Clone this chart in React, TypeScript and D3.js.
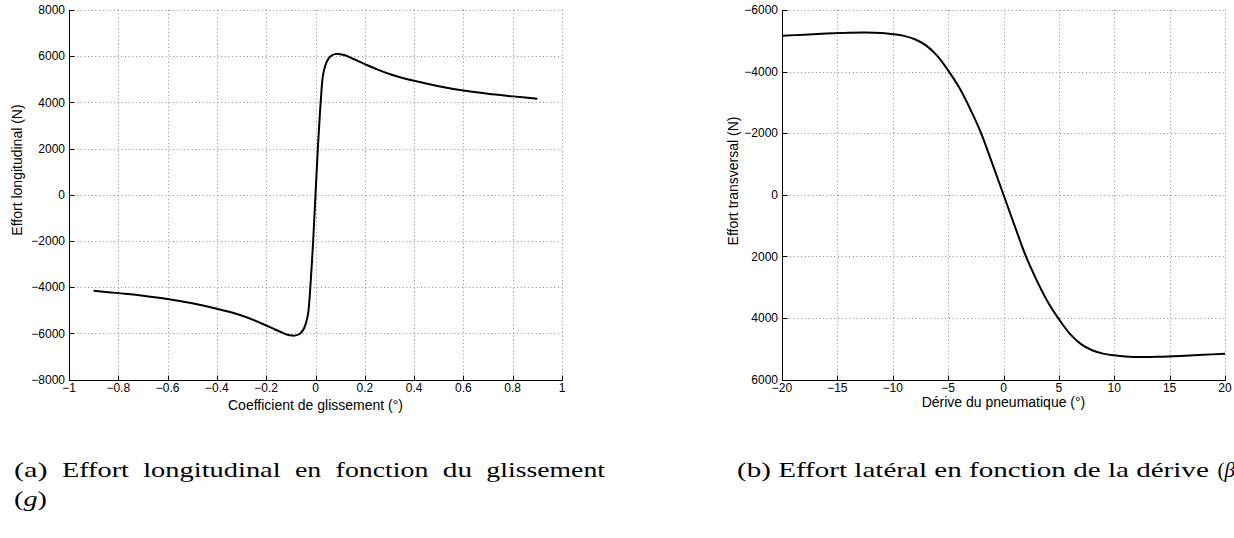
import React from 'react';
import * as d3 from 'd3';

// ---- Data: chart (a) longitudinal force vs slip ----
const slipX = [-0.9, -0.8, -0.7, -0.6, -0.5, -0.4, -0.35, -0.3, -0.25, -0.2, -0.15, -0.12, -0.093, -0.08, -0.065, -0.05, -0.04, -0.03, -0.021, -0.015, -0.0095, 0,
  0.0095, 0.015, 0.021, 0.03, 0.04, 0.05, 0.065, 0.08, 0.093, 0.12, 0.15, 0.2, 0.25, 0.3, 0.35, 0.4, 0.5, 0.6, 0.7, 0.8, 0.9];
const forceLong = [-4155, -4260, -4370, -4510, -4700, -4935, -5070, -5230, -5430, -5660, -5900, -6040, -6100, -6090, -6030, -5850, -5600, -5150, -4000, -3000, -2000, 0,
  2000, 3000, 4000, 5150, 5600, 5850, 6030, 6090, 6100, 6040, 5900, 5660, 5430, 5230, 5070, 4935, 4700, 4510, 4370, 4260, 4155];
const xTicksA = [-1, -0.8, -0.6, -0.4, -0.2, 0, 0.2, 0.4, 0.6, 0.8, 1];
const yTicksA = [-8000, -6000, -4000, -2000, 0, 2000, 4000, 6000, 8000];

// ---- Data: chart (b) lateral force vs slip angle ----
const slipAngle = [-20, -18, -16, -14, -12.5, -11, -10, -9, -8, -7, -6, -5, -4, -3, -2, -1, 0, 1, 2, 3, 4, 5, 6, 7, 8, 9, 10, 11, 12.5, 14, 16, 18, 20];
const forceLat = [-5160, -5200, -5235, -5262, -5270, -5250, -5215, -5160, -5050, -4850, -4520, -4040, -3480, -2780, -1980, -1000, 0,
  1000, 1980, 2780, 3480, 4040, 4520, 4850, 5050, 5160, 5215, 5250, 5270, 5262, 5235, 5200, 5160];
const xTicksB = [-20, -15, -10, -5, 0, 5, 10, 15, 20];
const yTicksB = [-6000, -4000, -2000, 0, 2000, 4000, 6000];

const labelsA = { x: 'Coefficient de glissement (°)', y: 'Effort longitudinal (N)' };
const labelsB = { x: 'Dérive du pneumatique (°)', y: 'Effort transversal (N)' };

const captionAWords = ['(a)', 'Effort', 'longitudinal', 'en', 'fonction', 'du', 'glissement'];
const captionAEm = [1.278, 2.545, 5.225, 1.0, 3.529, 1.112, 4.51];
const captionB = '(b) Effort latéral en fonction de la dérive';

const fmt = (t: number) => {
  const s = d3.format('~g')(t);
  return s.replace('-', '\u2212');
};

const SANS = '"Liberation Sans", Arial, Helvetica, sans-serif';
const SERIF = '"Liberation Serif", "Times New Roman", serif';

type PanelProps = {
  xs: number[]; ys: number[];
  xDomain: [number, number]; yDomain: [number, number];
  xRange: [number, number]; yRange: [number, number];
  xTicks: number[]; yTicks: number[];
  xLabel: string; yLabel: string;
  yLabelX: number; yLabelY: number; xLabelY: number;
};

function Panel(p: PanelProps) {
  const x = d3.scaleLinear().domain(p.xDomain).range(p.xRange);
  const y = d3.scaleLinear().domain(p.yDomain).range(p.yRange);
  const crisp = (v: number) => Math.round(v) + 0.5;
  const line = d3.line<number>()
    .x((_, i) => x(p.xs[i]))
    .y((d) => y(d))
    .curve(d3.curveCatmullRom.alpha(0.5));
  const left = crisp(p.xRange[0]);
  const bottom = crisp(Math.max(p.yRange[0], p.yRange[1]));
  const top = Math.min(p.yRange[0], p.yRange[1]);
  const right = p.xRange[1];
  const gridStyle = { stroke: '#8a8a8a', strokeWidth: 1, strokeDasharray: '1 2.7' };
  return (
    <g>
      {p.xTicks.map((t, i) => (
        <line key={'gx' + i} x1={crisp(x(t))} x2={crisp(x(t))} y1={top} y2={bottom} {...gridStyle} />
      ))}
      {p.yTicks.map((t, i) => (
        <line key={'gy' + i} x1={left} x2={right} y1={crisp(y(t))} y2={crisp(y(t))} {...gridStyle} />
      ))}
      <path d={line(p.ys) || ''} fill="none" stroke="#000" strokeWidth={2} strokeLinejoin="round" />
      <line x1={left} x2={left} y1={top} y2={bottom} stroke="#000" strokeWidth={1} />
      <line x1={left} x2={right + 0.5} y1={bottom} y2={bottom} stroke="#000" strokeWidth={1} />
      {p.xTicks.map((t, i) => (
        <g key={'tx' + i}>
          <line x1={crisp(x(t))} x2={crisp(x(t))} y1={bottom} y2={bottom - 5} stroke="#000" strokeWidth={1} />
          <text x={x(t)} y={392} textAnchor="middle" fontFamily={SANS} fontSize={12} fill="#000">{fmt(t)}</text>
        </g>
      ))}
      {p.yTicks.map((t, i) => (
        <g key={'ty' + i}>
          <line x1={left} x2={left + 5} y1={crisp(y(t))} y2={crisp(y(t))} stroke="#000" strokeWidth={1} />
          <text x={left - 4.5} y={y(t)} dy="0.35em" textAnchor="end" fontFamily={SANS} fontSize={12} fill="#000">{fmt(t)}</text>
        </g>
      ))}
      <text x={(p.xRange[0] + p.xRange[1]) / 2} y={p.xLabelY} textAnchor="middle" fontFamily={SANS} fontSize={14} fill="#000">{p.xLabel}</text>
      <text transform={`translate(${p.yLabelX},${p.yLabelY}) rotate(-90)`} textAnchor="middle" dy="0.35em" fontFamily={SANS} fontSize={14} fill="#000">{p.yLabel}</text>
    </g>
  );
}

export default function App() {
  const f = 26.3;
  const lineStart = 14;
  const lineWidth = 591;
  const totalW = d3.sum(captionAEm) * f;
  const gap = (lineWidth - totalW) / (captionAWords.length - 1);
  const starts: number[] = [];
  let cur = lineStart;
  captionAEm.forEach((e) => { starts.push(cur); cur += e * f + gap; });
  const bWidth = 17.94 * f;
  const bStart = 737;

  return (
    <svg width={1234} height={538} style={{ position: 'absolute', left: 0, top: 0, background: '#fff', overflow: 'hidden' }}>
      <rect x={0} y={0} width={1234} height={538} fill="#fff" />
      <Panel xs={slipX} ys={forceLong} xDomain={[-1, 1]} yDomain={[-8000, 8000]}
        xRange={[69, 562]} yRange={[379.5, 10]} xTicks={xTicksA} yTicks={yTicksA}
        xLabel={labelsA.x} yLabel={labelsA.y} yLabelX={17} yLabelY={170} xLabelY={410} />
      <Panel xs={slipAngle} ys={forceLat} xDomain={[-20, 20]} yDomain={[-6000, 6000]}
        xRange={[782, 1225]} yRange={[10, 379.5]} xTicks={xTicksB} yTicks={yTicksB}
        xLabel={labelsB.x} yLabel={labelsB.y} yLabelX={733} yLabelY={181} xLabelY={407} />
      {captionAWords.map((w, i) => (
        <text key={'ca' + i} x={starts[i]} y={477} fontFamily={SERIF} fontSize={21} fill="#000"
          textLength={captionAEm[i] * f} lengthAdjust="spacingAndGlyphs">{w}</text>
      ))}
      <text x={lineStart} y={506} fontFamily={SERIF} fontSize={21} fill="#000" textLength={33} lengthAdjust="spacingAndGlyphs">
        (<tspan fontStyle="italic">g</tspan>)
      </text>
      <text x={bStart} y={477} fontFamily={SERIF} fontSize={21} fill="#000" textLength={bWidth} lengthAdjust="spacingAndGlyphs">{captionB}</text>
      <text x={bStart + bWidth + 0.333 * f} y={477} fontFamily={SERIF} fontSize={21} fill="#000">
        (<tspan fontStyle="italic">β</tspan>)
      </text>
    </svg>
  );
}
